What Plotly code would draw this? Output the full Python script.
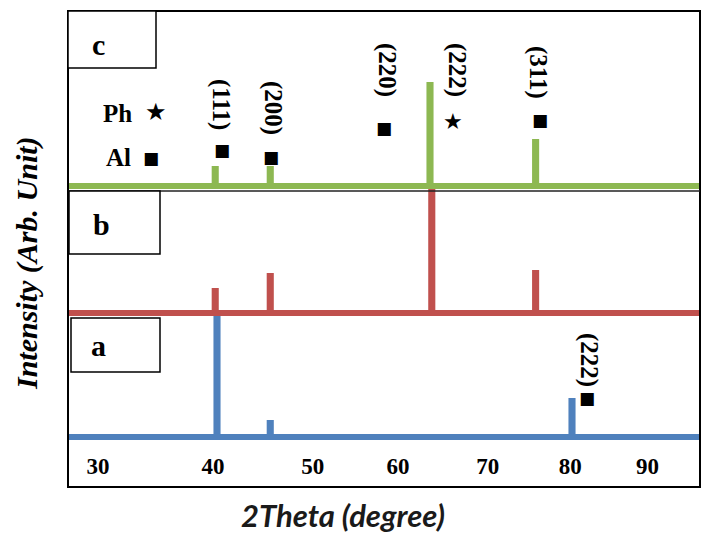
import plotly.graph_objects as go

# ---------------- data ----------------
samples = ["a", "b", "c"]
peak_pos_a = [40.0, 46.0, 80.0]
peak_int_a = [124, 17, 39]
peak_pos_b = [39.8, 46.0, 64.2, 75.9]
peak_int_b = [25, 40, 126, 43]
peak_pos_c = [39.8, 46.0, 64.0, 75.9]
peak_int_c = [20, 20, 104, 47]
tick_labels = ["30", "40", "50", "60", "70", "80", "90"]
tick_positions = [26.6, 39.55, 50.8, 60.4, 70.5, 79.8, 88.5]

# ---------------- layout helpers ----------------
W, H = 709, 537
L, R, T, B = 68, 700, 10, 450          # plot area in px
XMIN = 40 + (L - 217) / 8.875
XMAX = 40 + (R - 217) / 8.875
YMAX = B - T

def px(x):
    return (x - L) / (R - L)

def py(y):
    return (B - y) / (B - T)

def dy(y):
    return B - y

offsets = {"a": dy(437), "b": dy(313), "c": dy(186)}
colors = {"a": "#4F81BD", "b": "#C0504D", "c": "#8DB852"}
series = {"a": (peak_pos_a, peak_int_a), "b": (peak_pos_b, peak_int_b),
          "c": (peak_pos_c, peak_int_c)}

fig = go.Figure()
for s in samples:
    pos, inten = series[s]
    fig.add_trace(go.Bar(x=pos, y=inten, base=[offsets[s]] * len(pos),
                         width=0.8, marker=dict(color=colors[s], line_width=0),
                         showlegend=False, hoverinfo="skip"))
    fig.add_trace(go.Scatter(x=[XMIN, XMAX], y=[offsets[s], offsets[s]],
                             mode="lines", line=dict(color=colors[s], width=6),
                             showlegend=False, hoverinfo="skip"))

serif = "Liberation Serif, Times New Roman, serif"
shapes = []
# outer frame
shapes.append(dict(type="rect", xref="paper", yref="paper", x0=0, x1=1,
                   y0=py(487), y1=py(11), line=dict(color="black", width=2)))
# separator under green baseline
shapes.append(dict(type="line", xref="paper", yref="paper", x0=0, x1=1,
                   y0=py(191), y1=py(191), line=dict(color="#222", width=1.5)))
# label boxes
for (x0, y0, x1, y1) in [(68, 11, 156, 68), (69, 191, 160, 254), (71, 318, 160, 372)]:
    shapes.append(dict(type="rect", xref="paper", yref="paper", x0=px(x0), x1=px(x1),
                       y0=py(y1), y1=py(y0), line=dict(color="black", width=1.5),
                       fillcolor="white"))

ann = []
def text(xp, yp, t, size, angle=0, font=serif, color="black"):
    ann.append(dict(x=px(xp), y=py(yp), xref="paper", yref="paper", text=t,
                    showarrow=False, textangle=angle, xanchor="center",
                    yanchor="middle",
                    font=dict(family=font, size=size, color=color)))

text(98, 44, "<b>c</b>", 30)
text(101, 224, "<b>b</b>", 30)
text(98, 345, "<b>a</b>", 30)
text(117, 113, "<b>Ph</b>", 25)
text(156, 112, "★", 24, font="DejaVu Sans")
text(118, 157, "<b>Al</b>", 25)
text(151, 158, "■", 17, font="DejaVu Sans")

# peak labels (rotated)
for (xp, yp, t) in [(221, 104, "(111)"), (273, 108, "(200)"), (387, 70, "(220)"),
                    (457, 70, "(222)"), (538, 72, "(311)"), (589, 360, "(222)")]:
    text(xp, yp, "<b>%s</b>" % t, 25, angle=90)
for (xp, yp, ch) in [(222, 150, "■"), (271, 157, "■"), (384, 128, "■"),
                     (540, 120, "■"), (587, 398, "■")]:
    text(xp, yp, ch, 17, font="DejaVu Sans")
text(453, 122, "★", 22, font="DejaVu Sans")

# axis titles
text(27, 263, "<b><i>Intensity (Arb. Unit)</i></b>", 30, angle=-90)
text(343, 515, "<b><i>2Theta (degree)</i></b>", 31, font="Lato", color="#1a1a1a")

fig.update_layout(
    width=W, height=H, margin=dict(l=L, r=W - R, t=T, b=H - B),
    paper_bgcolor="white", plot_bgcolor="white", barmode="overlay",
    shapes=shapes, annotations=ann,
    xaxis=dict(range=[XMIN, XMAX], tickvals=tick_positions, ticktext=tick_labels,
               showgrid=False, zeroline=False, showline=False, ticks="",
               tickfont=dict(family=serif, size=23, color="black", weight="bold")),
    yaxis=dict(range=[0, YMAX], showticklabels=False, showgrid=False,
               zeroline=False, showline=False, ticks=""),
)
fig.write_html("out.html", config={"displayModeBar": False},
               post_script="document.body.style.margin='0px';")
